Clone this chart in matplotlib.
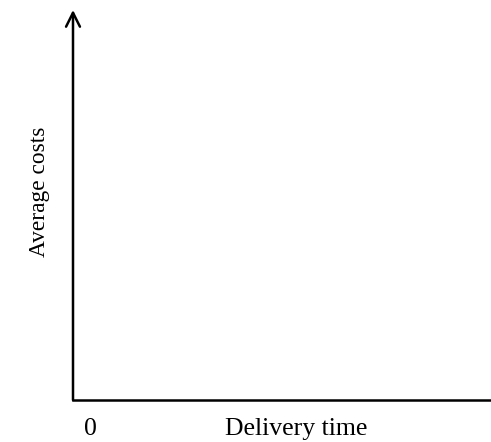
import matplotlib
matplotlib.use("Agg")
import matplotlib.pyplot as plt

x_label = "Delivery time"
y_label = "Average costs"
origin_label = "0"

W, H = 491, 442
fig = plt.figure(figsize=(W / 100, H / 100), dpi=100)
ax = fig.add_axes([73 / W, (H - 400) / H, (W - 73) / W, (400 - 10) / H])
ax.set_xlim(0, 1)
ax.set_ylim(0, 1)
for s in ("top", "right"):
    ax.spines[s].set_visible(False)
ax.spines["left"].set_visible(False)
ax.spines["bottom"].set_linewidth(1.8)
ax.set_xticks([])
ax.set_yticks([])
ax.annotate("", xy=(0, 1), xytext=(0, 0), xycoords="axes fraction",
            arrowprops=dict(arrowstyle="->,head_length=1.0,head_width=0.5",
                            lw=1.8, color="black", shrinkA=0, shrinkB=0))

fam = ["Liberation Serif", "DejaVu Serif"]
fig.text(296 / W, 1 - 429 / H, x_label, ha="center", va="center",
         fontsize=18.5, family=fam)
fig.text(90 / W, 1 - 429 / H, origin_label, ha="center", va="center",
         fontsize=18.5, family=fam)
fig.text(39 / W, 1 - 192 / H, y_label, ha="center", va="center",
         rotation=90, fontsize=16.8, family=fam)

fig.savefig("out.png", dpi=100)
